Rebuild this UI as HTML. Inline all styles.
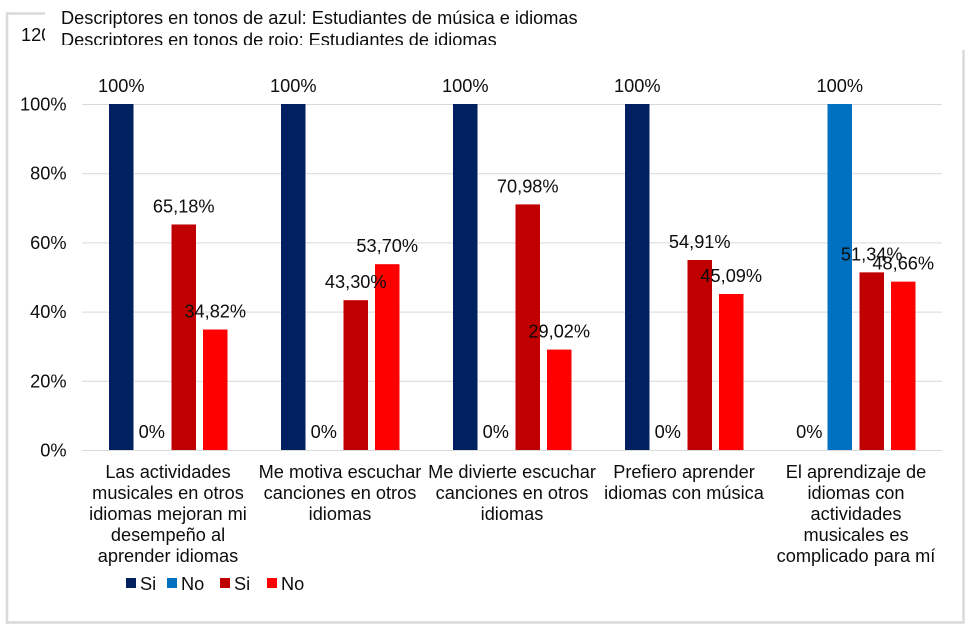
<!DOCTYPE html>
<html lang="es">
<head>
<meta charset="utf-8">
<title>Descriptores</title>
<style>
html,body{margin:0;padding:0;background:#fff}
body{width:970px;height:629px;overflow:hidden}
svg{display:block;font-family:"Liberation Sans",sans-serif}
text{fill:#0d0d0d;font-size:18.2px}
</style>
</head>
<body>
<svg id="chart" width="970" height="629" viewBox="0 0 970 629">
  <defs>
    <clipPath id="clip-title"><rect x="50" y="0" width="600" height="45"></rect></clipPath>
    <clipPath id="clip-120"><rect x="0" y="0" width="45" height="60"></rect></clipPath>
  </defs>
  <rect x="7" y="13.500" width="956.500" height="609" fill="#fff" stroke="#d9d9d9" stroke-width="2.500"></rect>
  <rect x="45" y="0" width="925" height="50" fill="#fff"></rect>
  <text x="21" y="41" clip-path="url(#clip-120)">120%</text>
  <g clip-path="url(#clip-title)">
    <text x="61" y="24">Descriptores en tonos de azul: Estudiantes de música e idiomas</text>
    <text x="61" y="46">Descriptores en tonos de rojo: Estudiantes de idiomas</text>
  </g>
  <g id="grid"></g>
  <g id="bars"></g>
  <g id="labels"></g>
  <g id="cats"></g>
  <g id="legend"></g>
</svg>
<script>
const categories = [
  ["Las actividades","musicales en otros","idiomas mejoran mi","desempeño al","aprender idiomas"],
  ["Me motiva escuchar","canciones en otros","idiomas"],
  ["Me divierte escuchar","canciones en otros","idiomas"],
  ["Prefiero aprender","idiomas con música"],
  ["El aprendizaje de","idiomas con","actividades","musicales es","complicado para mí"]
];
const musicIdiomasSi = [100, 100, 100, 100, 0];
const musicIdiomasNo = [0, 0, 0, 0, 100];
const idiomasSi = [65.18, 43.30, 70.98, 54.91, 51.34];
const idiomasNo = [34.82, 53.70, 29.02, 45.09, 48.66];
const printedSi1 = ["100%", "100%", "100%", "100%", "0%"];
const printedNo1 = ["0%", "0%", "0%", "0%", "100%"];
const printedSi2 = ["65,18%", "43,30%", "70,98%", "54,91%", "51,34%"];
const printedNo2 = ["34,82%", "53,70%", "29,02%", "45,09%", "48,66%"];
const yTicks = [0, 20, 40, 60, 80, 100];
const legendLabels = ["Si", "No", "Si", "No"];

const NS = "http://www.w3.org/2000/svg";
const plotLeft = 82, plotRight = 942, plotTop = 104, plotBottom = 450;
const seriesColors = ["#002060", "#0070c0", "#c00000", "#ff0000"];
const seriesOffsets = [27, 57.5, 89.5, 121];
const barWidth = 24.5;
const y = v => plotBottom - (v / 100) * (plotBottom - plotTop);
const groupX = i => plotLeft + i * (plotRight - plotLeft) / categories.length;

function make(tag, attrs, parent, txt) {
  const el = document.createElementNS(NS, tag);
  for (const k in attrs) el.setAttribute(k, attrs[k]);
  if (txt !== undefined) el.textContent = txt;
  parent.appendChild(el);
  return el;
}

const grid = document.getElementById("grid");
yTicks.forEach(t => {
  const line = make("line", {x1: plotLeft, x2: plotRight, y1: y(t) + 0.5, y2: y(t) + 0.5, stroke: "#d9d9d9", "stroke-width": 1}, grid);
  
  
  const lab = make("text", {x: 66.5, y: y(t) + 6.5, "text-anchor": "end"}, grid, t + "%");
  
  
});

const allSeries = [musicIdiomasSi, musicIdiomasNo, idiomasSi, idiomasNo];
const allPrinted = [printedSi1, printedNo1, printedSi2, printedNo2];
const bars = document.getElementById("bars");
const labels = document.getElementById("labels");
allSeries.forEach((series, s) => {
  series.forEach((v, i) => {
    const x = groupX(i) + seriesOffsets[s];
    const top = y(v);
    if (v > 0) {
      const bar = make("rect", {x: x, y: top, width: barWidth, height: plotBottom - top, fill: seriesColors[s]}, bars);
      
      
    }
    const lab = make("text", {x: x + barWidth / 2, y: top - 12, "text-anchor": "middle"}, labels, allPrinted[s][i]);
    
    
  });
});

const cats = document.getElementById("cats");
categories.forEach((lines, i) => {
  const cx = groupX(i) + (plotRight - plotLeft) / categories.length / 2;
  lines.forEach((ln, j) => {
    const t = make("text", {x: cx, y: 478 + j * 21, "text-anchor": "middle"}, cats, ln);
    
    
  });
});

const legend = document.getElementById("legend");
const legendX = [126, 167, 220, 267];
legendLabels.forEach((name, i) => {
  const sw = make("rect", {x: legendX[i], y: 578, width: 10, height: 10, fill: seriesColors[i]}, legend);
  
  
  const t = make("text", {x: legendX[i] + 14, y: 590}, legend, name);
  
  
});
</script>
</body>
</html>
